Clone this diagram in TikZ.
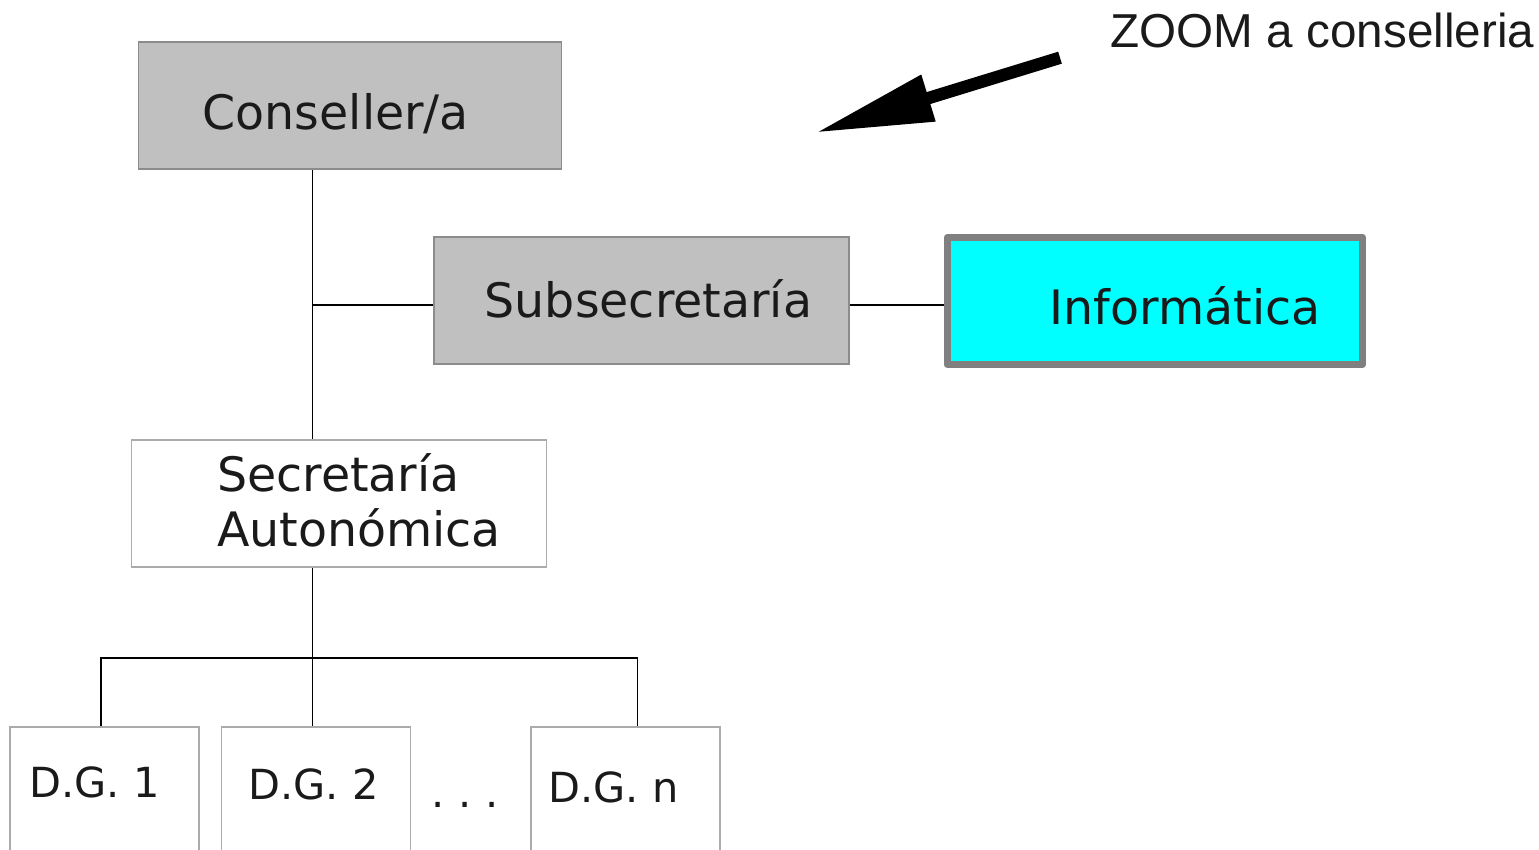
\documentclass[tikz,border=0pt]{standalone}
\usepackage{fontspec}
\setmainfont{DejaVu Sans}
\newfontfamily\zoomfont{Liberation Sans}
\usetikzlibrary{arrows.meta,positioning}
\definecolor{boxgrey}{HTML}{C0C0C0}
\definecolor{edgegrey}{HTML}{8C8C8C}
\definecolor{lightedge}{HTML}{ABABAB}
\definecolor{infoedge}{HTML}{808080}
\definecolor{infocyan}{HTML}{00FFFF}
\definecolor{ink}{HTML}{1A1A1A}

\begin{document}
\begin{tikzpicture}[
  greybox/.style={rectangle,draw=edgegrey,fill=boxgrey,line width=0.5pt,minimum height=1.27cm},
  whitebox/.style={rectangle,draw=lightedge,fill=white,line width=0.5pt},
  dgbox/.style={whitebox,minimum width=1.89cm,minimum height=1.6cm},
  infobox/.style={rectangle,draw=infoedge,fill=infocyan,line width=0.07cm,line join=round,minimum width=4.155cm,minimum height=1.273cm},
  boxtext/.style={anchor=base west,inner sep=0pt,text=ink,font=\fontsize{13.5pt}{15.6pt}\selectfont},
  dgtext/.style={boxtext,font=\fontsize{11.8pt}{14pt}\selectfont},
  conn/.style={draw=black,line width=0.4pt}]

\useasboundingbox (0,0) rectangle (15.39,-8.50);
\clip (0,0) rectangle (15.39,-8.50);

\node[greybox,minimum width=4.23cm]  (conseller)  at (3.50,-1.055) {};
\node[greybox,minimum width=4.15cm]  (subsec)     at (6.413,-3.008) {};
\node[infobox]                       (info)       [right=0.94cm of subsec] {};
\node[whitebox,minimum width=4.15cm,minimum height=1.27cm] (secretaria) at (3.39,-5.037) {};
\node[dgbox,anchor=north]            (dg1)        at (1.047,-7.265) {};
\node[dgbox]                         (dg2)        [right=0.205cm of dg1] {};
\node[dgbox]                         (dgn)        [right=1.19cm of dg2] {};

% texts
\node[boxtext] (consellerT)  at (2.02,-1.293)  {Conseller/a};
\node[boxtext] (subsecT)     at (4.84,-3.173)  {Subsecretaría};
\node[boxtext] (infoT)       at (10.49,-3.243) {Informática};
\node[boxtext,align=left] (secretariaT) at (2.165,-5.467) {Secretaría\\Autonómica};
\node[dgtext]  (dg1T)        at (0.29,-7.977)  {D.G. 1};
\node[dgtext]  (dg2T)        at (2.48,-8.00)   {D.G. 2};
\node[dgtext]  (dgnT)        at (5.48,-8.023)  {D.G. n};
\node[dgtext]  (dots)        at (4.31,-8.08)   {\makebox[0.27cm][l]{.}\makebox[0.27cm][l]{.}.};
\node[boxtext,font=\zoomfont\fontsize{13.55pt}{16pt}\selectfont] (zoomT) at (11.10,-0.473) {ZOOM a conselleria};

% tree lines
\coordinate (trunk) at (3.125,-3.05);
\coordinate (bus)   at (3.125,-6.58);
\draw[conn] (trunk |- conseller.south) -- (trunk |- secretaria.north);
\draw[conn] (trunk) -- (trunk -| subsec.west);
\draw[conn] (trunk -| subsec.east) -- (trunk -| info.west);
\draw[conn] (trunk |- secretaria.south) -- (trunk |- dg2.north);
\draw[conn] ([xshift=-0.035cm]dg1.north) |- (bus) -| ([xshift=0.115cm]dgn.north);

% zoom arrow
\coordinate (zoomtail) at (10.60,-0.577);
\coordinate (zoomtip)  at (8.157,-1.327);
\draw[line width=0.125cm,-{Triangle[length=1.18cm,width=0.455cm]}] (zoomtail) -- (zoomtip);
\end{tikzpicture}
\end{document}
